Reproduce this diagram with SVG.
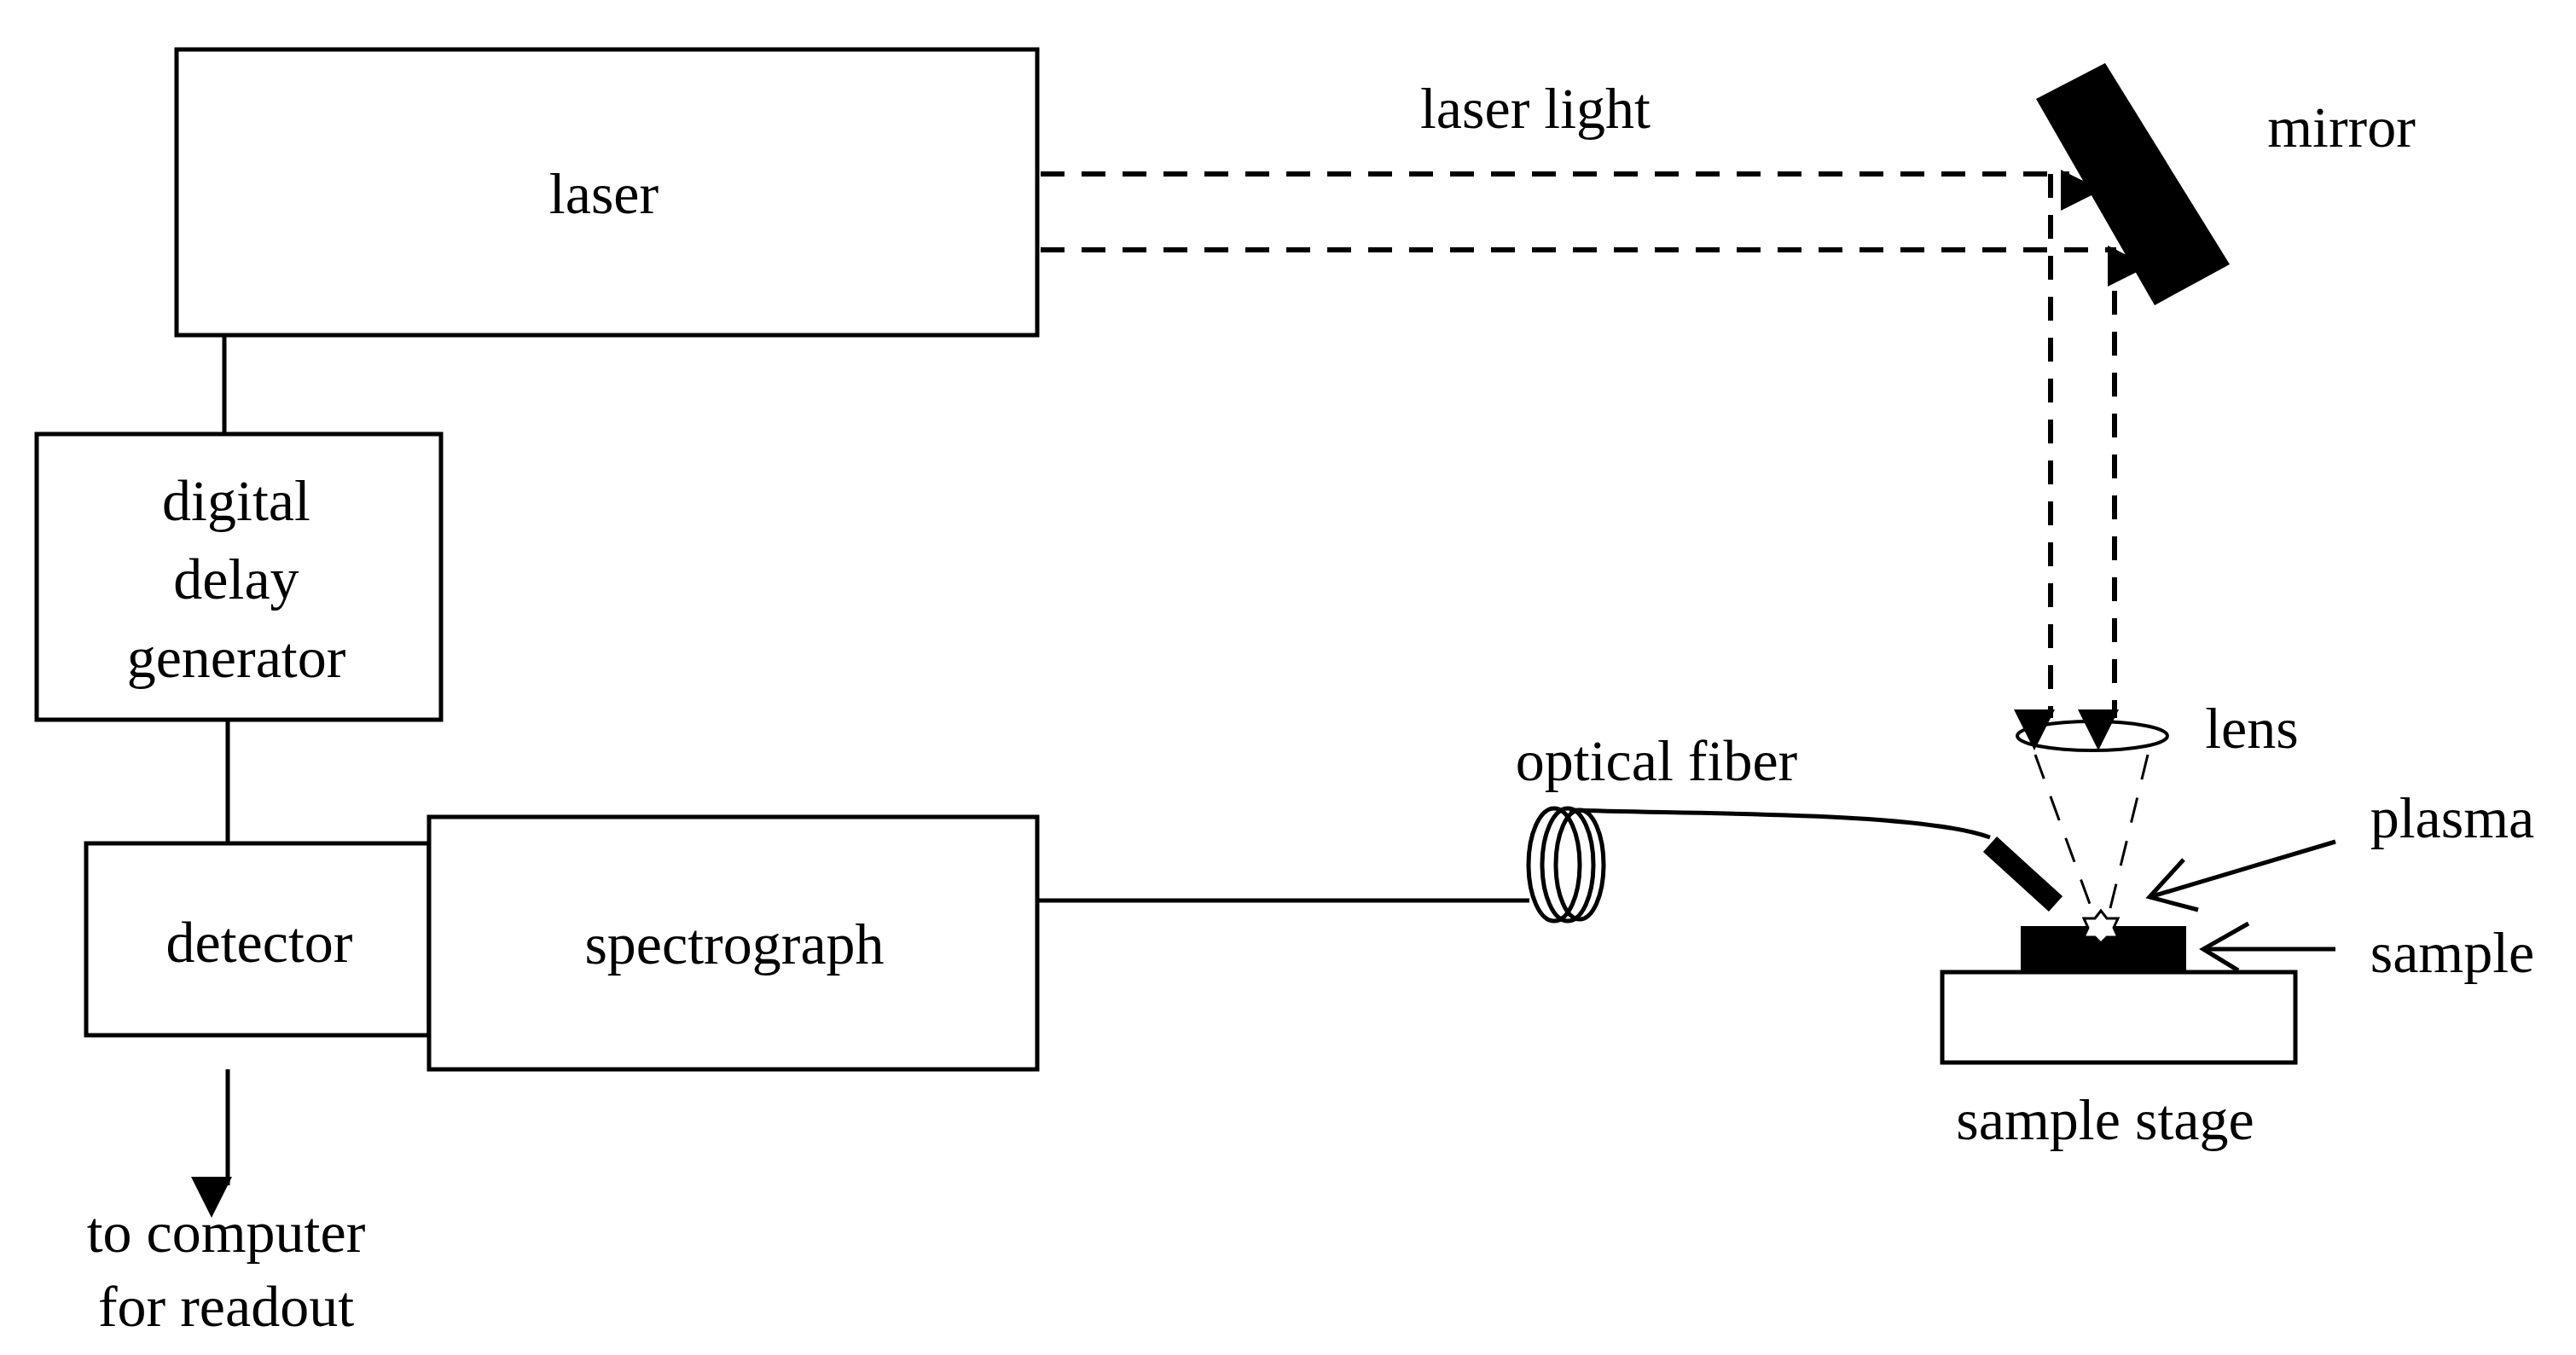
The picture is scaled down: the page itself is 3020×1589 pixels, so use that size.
<svg xmlns="http://www.w3.org/2000/svg" width="3020" height="1589" viewBox="0 0 3020 1589">
<style>
.box{fill:#fff;stroke:#000;stroke-width:5}
.ln{stroke:#000;stroke-width:5;fill:none}
.dash{stroke:#000;stroke-width:6;fill:none;stroke-dasharray:28 20}
.thin{stroke:#000;stroke-width:3;fill:none;stroke-dasharray:30 22}
text{font-family:"Liberation Serif",serif;font-size:68px;fill:#000;text-anchor:middle}
</style>
<defs>
<marker id="ah" markerWidth="10" markerHeight="10" refX="10" refY="5" orient="auto" markerUnits="userSpaceOnUse" viewBox="0 0 10 10" style="overflow:visible">
<path d="M0,0 L10,5 L0,10 Z" fill="#000" transform="scale(4.8)" />
</marker>
</defs>
<g id="laser"><rect class="box" x="207" y="58" width="1009" height="335"/><text x="708" y="250">laser</text></g>
<g id="ddg"><rect class="box" x="43" y="509" width="474" height="335"/><text x="277" y="610">digital</text><text x="277" y="702">delay</text><text x="277" y="794">generator</text></g>
<g id="detector"><rect class="box" x="101" y="989" width="402" height="225"/><text x="304" y="1128">detector</text></g>
<g id="spectrograph"><rect class="box" x="503" y="958" width="713" height="296"/><text x="861" y="1130">spectrograph</text></g>
<g id="mirror"><polygon points="2387,116 2468,74 2614,310 2526,358" fill="#000"/><text x="2745" y="172">mirror</text></g>
<g id="lens"><ellipse cx="2453" cy="863" rx="88" ry="17" fill="#fff" stroke="#000" stroke-width="4"/><text x="2640" y="877">lens</text></g>
<g id="stage"><rect class="box" x="2277" y="1140" width="414" height="106"/><text x="2468" y="1336">sample stage</text></g>
<g id="sample"><rect x="2369" y="1086" width="194" height="54" fill="#000"/><text x="2875" y="1140">sample</text></g>
<g id="plasma"><polygon points="2463,1068 2470,1077 2483,1077 2478,1088 2483,1099 2470,1099 2463,1106 2456,1099 2443,1099 2448,1088 2443,1077 2456,1077" fill="#fff" stroke="#000" stroke-width="3"/><text x="2875" y="982">plasma</text></g>
<g id="fiber"><ellipse cx="1822" cy="1014" rx="30" ry="66" class="ln" stroke-width="4"/><ellipse cx="1838" cy="1014" rx="30" ry="66" class="ln" stroke-width="4"/><ellipse cx="1852" cy="1014" rx="28" ry="64" class="ln" stroke-width="4"/><path class="ln" stroke-width="4" d="M1840 950 C 2000 955, 2250 952, 2333 982"/><line x1="2333" y1="990" x2="2410" y2="1060" stroke="#000" stroke-width="24"/><text x="1942" y="915">optical fiber</text></g>
<g id="labels"><text x="1800" y="150">laser light</text><text x="265" y="1468">to computer</text><text x="265" y="1555">for readout</text></g>
<g id="connectors">
<line class="ln" x1="263" y1="393" x2="263" y2="509"/>
<line class="ln" x1="267" y1="844" x2="267" y2="989"/>
<line class="ln" x1="267" y1="1254" x2="267" y2="1390" marker-end="url(#ah)"/>
<line class="ln" x1="1216" y1="1056" x2="1793" y2="1056"/>
<line class="dash" x1="1220" y1="204" x2="2426" y2="204" marker-end="url(#ah)"/>
<line class="dash" x1="1220" y1="293" x2="2481" y2="293" marker-end="url(#ah)"/>
<line class="dash" x1="2404" y1="204" x2="2404" y2="842" marker-end="url(#ah)"/>
<line class="dash" x1="2479" y1="293" x2="2479" y2="842" marker-end="url(#ah)"/>
<line class="thin" x1="2386" y1="885" x2="2450" y2="1060"/>
<line class="thin" x1="2518" y1="885" x2="2474" y2="1065"/>
<polyline class="ln" points="2738,987 2520,1052"/>
<polyline class="ln" points="2560,1008 2520,1052 2577,1067"/>
<polyline class="ln" points="2738,1113 2583,1113"/>
<polyline class="ln" points="2636,1083 2583,1113 2624,1138"/>
</g>
</svg>
